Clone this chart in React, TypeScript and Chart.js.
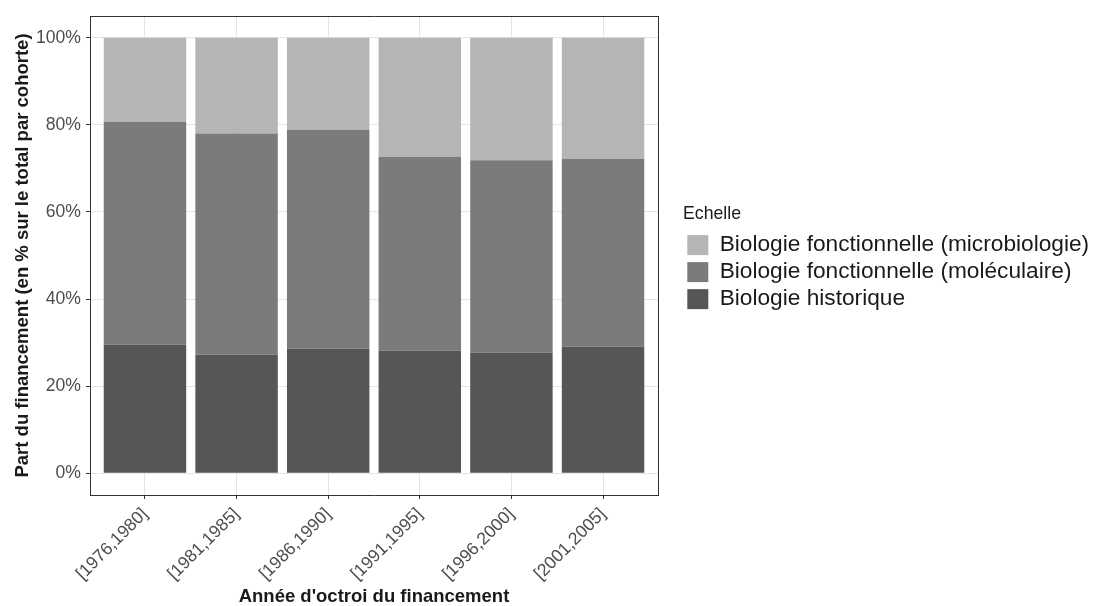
import React, { useEffect, useRef } from "react";
import { Chart, registerables } from "chart.js";

Chart.register(...registerables);

const CATEGORIES = ["[1976,1980]", "[1981,1985]", "[1986,1990]", "[1991,1995]", "[1996,2000]", "[2001,2005]"];
const HISTORIQUE = [29.5, 27.2, 28.6, 28.1, 27.7, 29.1];
const MOLECULAIRE = [51.2, 50.8, 50.3, 44.5, 44.2, 43.1];
const MICROBIOLOGIE = [19.3, 22.0, 21.1, 27.4, 28.1, 27.8];
const Y_TICKS = [0, 20, 40, 60, 80, 100];
const LABEL_HISTORIQUE = "Biologie historique";
const LABEL_MOLECULAIRE = "Biologie fonctionnelle (moléculaire)";
const LABEL_MICRO = "Biologie fonctionnelle (microbiologie)";
const LEGEND_TITLE = "Echelle";
const X_TITLE = "Année d'octroi du financement";
const Y_TITLE = "Part du financement (en % sur le total par cohorte)";

const FONT = "'Liberation Sans', Arial, sans-serif";
const FRAME = "#333333";
const GRID = "#e4e4e4";
const TICK_TEXT = "#4d4d4d";

export default function App() {
  const ref = useRef<HTMLCanvasElement | null>(null);

  useEffect(() => {
    if (!ref.current) return;
    const toPoints = (arr: number[]) => arr.map((v, i) => ({ x: i, y: v }));
    const chart = new Chart(ref.current, {
      type: "bar",
      data: {
        datasets: [
          { label: LABEL_HISTORIQUE, data: toPoints(HISTORIQUE), backgroundColor: "#565656", borderWidth: 0 },
          { label: LABEL_MOLECULAIRE, data: toPoints(MOLECULAIRE), backgroundColor: "#7b7b7b", borderWidth: 0 },
          { label: LABEL_MICRO, data: toPoints(MICROBIOLOGIE), backgroundColor: "#b5b5b5", borderWidth: 0 },
        ],
      },
      options: {
        animation: false,
        responsive: true,
        maintainAspectRatio: false,
        datasets: { bar: { barPercentage: 0.9, categoryPercentage: 1.0 } },
        layout: { padding: { left: 0, top: 0, right: 0, bottom: 0 } },
        plugins: {
          tooltip: { enabled: false },
          legend: {
            position: "right",
            align: "center",
            fullSize: false,
            reverse: true,
            maxWidth: 411,
            title: {
              display: true,
              text: LEGEND_TITLE,
              position: "start",
              color: "#1a1a1a",
              font: { family: FONT, size: 17.7 },
              padding: { top: 9, bottom: 3 },
            },
            labels: {
              boxWidth: 21,
              boxHeight: 20,
              padding: 4.3,
              color: "#1a1a1a",
              font: { family: FONT, size: 22.7 },
            },
          },
        },
        scales: {
          x: {
            type: "linear",
            position: "bottom",
            stacked: true,
            offset: false,
            min: -0.6,
            max: 5.6,
            afterBuildTicks: (axis: any) => {
              axis.ticks = CATEGORIES.map((_, i) => ({ value: i }));
            },
            afterFit: (axis: any) => {
              axis.height = 111;
            },
            ticks: {
              autoSkip: false,
              maxRotation: 45,
              minRotation: 45,
              padding: 5,
              color: TICK_TEXT,
              font: { family: FONT, size: 17.6 },
              callback: (v: any) => CATEGORIES[Math.round(Number(v))] ?? "",
            },
            grid: { offset: false, color: GRID, lineWidth: 1, tickColor: FRAME, tickLength: 4, drawTicks: true },
            border: { display: true, color: FRAME, width: 1 },
            title: {
              display: true,
              text: X_TITLE,
              color: "#1a1a1a",
              font: { family: FONT, size: 18.5, weight: "bold", lineHeight: 1.0 },
              padding: { top: 0, bottom: 0 },
            },
          },
          xTop: {
            type: "linear",
            position: "top",
            display: true,
            min: -0.6,
            max: 5.6,
            grid: { display: false, drawTicks: false },
            ticks: { display: false },
            border: { display: true, color: FRAME, width: 1 },
            afterFit: (axis: any) => {
              axis.height = 16;
            },
          },
          y: {
            type: "linear",
            position: "left",
            stacked: true,
            min: -5,
            max: 105,
            afterBuildTicks: (axis: any) => {
              axis.ticks = Y_TICKS.map((v) => ({ value: v }));
            },
            afterFit: (axis: any) => {
              axis.width = 90;
            },
            ticks: {
              padding: 5,
              color: TICK_TEXT,
              font: { family: FONT, size: 17.6 },
              callback: (v: any) => `${v}%`,
            },
            grid: { color: GRID, lineWidth: 1, tickColor: FRAME, tickLength: 4, drawTicks: true },
            border: { display: true, color: FRAME, width: 1 },
            title: {
              display: true,
              text: Y_TITLE,
              color: "#1a1a1a",
              font: { family: FONT, size: 18.5, weight: "bold" },
              padding: { top: 12, bottom: 0 },
            },
          },
          yRight: {
            type: "linear",
            position: "right",
            display: true,
            grid: { display: false, drawTicks: false },
            ticks: { display: false },
            border: { display: true, color: FRAME, width: 1 },
            afterFit: (axis: any) => {
              axis.width = 25;
            },
          },
        },
      } as any,
    });
    return () => chart.destroy();
  }, []);

  return (
    <div style={{ position: "absolute", left: 0, top: 0, width: 1094, height: 606, background: "#fff" }}>
      <canvas ref={ref} />
    </div>
  );
}
